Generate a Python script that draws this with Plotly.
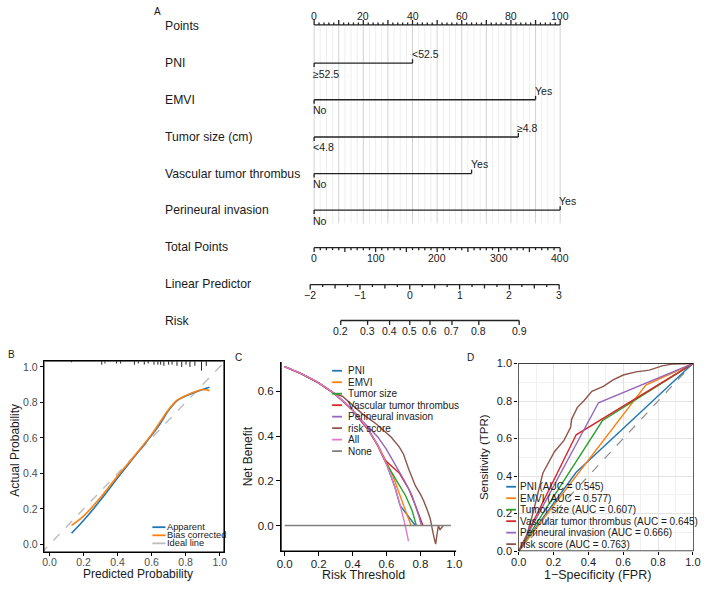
import math
import plotly.graph_objects as go

W, H = 709, 591
FONT = "Liberation Sans, Arial, Helvetica, sans-serif"

# ===================== DATA =====================
# ---- A: nomogram ----
nomo_vars = ["PNI", "EMVI", "Tumor size (cm)", "Vascular tumor thrombus", "Perineural invasion"]
nomo_low_label = ["≥52.5", "No", "<4.8", "No", "No"]
nomo_high_label = ["<52.5", "Yes", "≥4.8", "Yes", "Yes"]
nomo_low_points = [0, 0, 0, 0, 0]
nomo_high_points = [40, 90, 83, 64, 100]
points_tick_labels = [0, 20, 40, 60, 80, 100]
total_points_tick_labels = [0, 100, 200, 300, 400]
lp_tick_labels = [-2, -1, 0, 1, 2, 3]
risk_tick_labels = [0.2, 0.3, 0.4, 0.5, 0.6, 0.7, 0.8, 0.9]

# ---- B: calibration ----
cal_pred = [0.13, 0.2, 0.3, 0.4, 0.5, 0.6, 0.65, 0.7, 0.75, 0.8, 0.85, 0.9, 0.94]
cal_apparent = [0.064, 0.135, 0.25, 0.375, 0.495, 0.615, 0.68, 0.755, 0.81, 0.835, 0.855, 0.872, 0.885]
cal_bias_corrected = [0.108, 0.16, 0.265, 0.385, 0.5, 0.62, 0.69, 0.76, 0.812, 0.838, 0.858, 0.872, 0.866]
rug_pred = [0.129, 0.307, 0.326, 0.394, 0.418, 0.499, 0.522, 0.557, 0.58, 0.614, 0.637, 0.653,
            0.672, 0.70, 0.72, 0.749, 0.777, 0.802, 0.825, 0.854, 0.893, 0.921]
rug_count = [1, 3, 2, 2, 2, 3, 2, 3, 2, 3, 3, 3, 4, 3, 3, 4, 5, 3, 5, 4, 8, 4]

# ---- C: decision curves ----
dca_names = ["PNI", "EMVI", "Tumor size", "Vascular tumor thrombus", "Perineural invasion", "risk score", "All", "None"]
dca_pni_t = [0, .1, .2, .3, .4, .5, .55, .6, .65, .68, .77]
dca_pni_nb = [0.71, 0.678, 0.638, 0.586, 0.517, 0.42, 0.356, 0.275, 0.171, 0.09, 0.0]
dca_emvi_t = [0, .1, .2, .3, .4, .5, .55, .6, .64, .68, .72, .745]
dca_emvi_nb = [0.71, 0.678, 0.638, 0.586, 0.517, 0.42, 0.358, 0.285, 0.218, 0.13, 0.05, 0.0]
dca_size_t = [0, .1, .2, .3, .4, .5, .55, .59, .655, .713, .751, .776]
dca_size_nb = [0.71, 0.678, 0.638, 0.586, 0.517, 0.42, 0.356, 0.29, 0.206, 0.133, 0.067, 0.0]
dca_vasc_t = [0, .1, .2, .3, .4, .5, .55, .59, .675, .732, .771, .815]
dca_vasc_nb = [0.71, 0.678, 0.638, 0.586, 0.517, 0.42, 0.356, 0.293, 0.235, 0.162, 0.089, 0.0]
dca_peri_t = [0, .1, .2, .3, .4, .45, .5, .549, .6, .636, .68, .713, .75, .771, .79, .806]
dca_peri_nb = [0.71, 0.678, 0.638, 0.586, 0.517, 0.473, 0.435, 0.396, 0.34, 0.293, 0.24, 0.191, 0.135, 0.089, 0.045, 0.0]
dca_risk_t = [0, .1, .2, .3, .34, .4, .46, .54, .6, .627, .675, .7, .732, .771, .8, .819, .84, .858,
              .877, .89, .906, .916, .925, .935]
dca_risk_nb = [0.71, 0.678, 0.638, 0.588, 0.578, 0.54, 0.498, 0.454, 0.415, 0.396, 0.352, 0.32, 0.25,
               0.177, 0.14, 0.111, 0.07, 0.031, -0.042, -0.083, 0.0, -0.02, -0.01, 0.0]
dca_all_t = [0, .05, .1, .15, .2, .25, .3, .35, .4, .45, .5, .55, .6, .65, .7, .73]
dca_all_nb = [0.71, 0.695, 0.678, 0.659, 0.638, 0.613, 0.586, 0.554, 0.517, 0.473, 0.42, 0.356, 0.275, 0.171, 0.033, -0.07]
dca_none_t = [0, 0.98]
dca_none_nb = [0, 0]

# ---- D: ROC ----
roc_names = ["PNI", "EMVI", "Tumor size", "Vascular tumor thrombus", "Perineural invasion", "risk score"]
roc_auc = [0.545, 0.577, 0.607, 0.645, 0.666, 0.763]
roc_pni_fpr, roc_pni_tpr = [0, 0.33, 1], [0, 0.42, 1]
roc_emvi_fpr, roc_emvi_tpr = [0, 0.73, 1], [0, 0.885, 1]
roc_size_fpr, roc_size_tpr = [0, 0.48, 1], [0, 0.695, 1]
roc_vasc_fpr, roc_vasc_tpr = [0, 0.33, 1], [0, 0.62, 1]
roc_peri_fpr, roc_peri_tpr = [0, 0.458, 1], [0, 0.791, 1]
roc_risk_fpr = [0, 0.036, 0.083, 0.139, 0.205, 0.26, 0.298, 0.304, 0.336, 0.373, 0.42, 0.486, 0.542,
                0.6, 0.674, 0.75, 0.824, 0.88, 1]
roc_risk_tpr = [0, 0.05, 0.207, 0.416, 0.53, 0.59, 0.66, 0.704, 0.765, 0.80, 0.852, 0.878, 0.913,
                0.939, 0.956, 0.965, 0.988, 0.997, 1]

# ===================== STYLE =====================
C_BLUE, C_ORANGE, C_GREEN, C_RED = "#1f77b4", "#ff7f0e", "#2ca02c", "#d62728"
C_PURPLE, C_BROWN, C_PINK, C_GRAY = "#9467bd", "#8c564b", "#e377c2", "#7f7f7f"
model_colors = [C_BLUE, C_ORANGE, C_GREEN, C_RED, C_PURPLE, C_BROWN, C_PINK, C_GRAY]
TXT = "#1a1a1a"


def fx(px):
    return px / W


def fy(py):
    return 1 - py / H


fig = go.Figure()
annots = []
shapes = []

# ===================== A: NOMOGRAM =====================
NOMO_BOTTOM_PX = 345          # the nomogram subplot occupies only the top band
PT0_PX, PX_PER_PT = 313.3, 2.51
LP_AT_ZERO, PTS_PER_LP = -1.921, 20.24
TOTAL_MAX = total_points_tick_labels[-1]


def total_to_pts(v):
    return v * 100.0 / TOTAL_MAX


def lp_to_pts(v):
    return (v - LP_AT_ZERO) * PTS_PER_LP


def risk_to_pts(r):
    return lp_to_pts(math.log(r / (1 - r)))


ROW_POINTS = 19.3
ROW_VARS = [58.3, 95.7, 133.7, 171.0, 208.3]
ROW_TOTAL = 246.7
ROW_LP = 284.3
ROW_RISK = 321.0
GRID_BOTTOM = 222
LABEL_X = (159.5 - PT0_PX) / PX_PER_PT

gl_x, gl_y, gd_x, gd_y = [], [], [], []
k = 0
while k * 2.5 <= 100 + 1e-9:
    v = k * 2.5
    if abs(v % 10) < 1e-9:
        gd_x += [v, v, None]; gd_y += [ROW_POINTS + 1, GRID_BOTTOM, None]
    else:
        gl_x += [v, v, None]; gl_y += [ROW_POINTS + 1, GRID_BOTTOM, None]
    k += 1
fig.add_trace(go.Scatter(x=gl_x, y=gl_y, mode="lines", line=dict(color="#eeeeee", width=1),
                         xaxis="x", yaxis="y", hoverinfo="skip"))
fig.add_trace(go.Scatter(x=gd_x, y=gd_y, mode="lines", line=dict(color="#d2d2d2", width=1),
                         xaxis="x", yaxis="y", hoverinfo="skip"))

sx, sy = [], []


def seg(x0, y0, x1, y1):
    sx.extend([x0, x1, None]); sy.extend([y0, y1, None])


seg(0, ROW_POINTS, 100, ROW_POINTS)
for v in range(0, 101, 2):
    L = 5 if v % 10 == 0 else 2.5
    seg(v, ROW_POINTS, v, ROW_POINTS - L)
for v in points_tick_labels:
    annots.append(dict(x=v, y=ROW_POINTS - 9, xref="x", yref="y", text=str(v), showarrow=False,
                       xanchor="center", yanchor="middle", font=dict(size=10.5, color=TXT)))

for name, lo_l, hi_l, lo_p, hi_p, r in zip(nomo_vars, nomo_low_label, nomo_high_label,
                                            nomo_low_points, nomo_high_points, ROW_VARS):
    seg(lo_p, r, hi_p, r)
    seg(lo_p, r, lo_p, r + 4)
    seg(hi_p, r, hi_p, r - 4)
    annots.append(dict(x=hi_p, y=r - 9.3, xref="x", yref="y", text=hi_l, showarrow=False,
                       xanchor="left", yanchor="middle", xshift=-3, font=dict(size=10.5, color=TXT)))
    annots.append(dict(x=lo_p, y=r + 10.7, xref="x", yref="y", text=lo_l, showarrow=False,
                       xanchor="left", yanchor="middle", xshift=-3, font=dict(size=10.5, color=TXT)))

seg(0, ROW_TOTAL, total_to_pts(TOTAL_MAX), ROW_TOTAL)
for v in range(0, TOTAL_MAX + 1, 10):
    L = 4.5 if v % 50 == 0 else 2.5
    seg(total_to_pts(v), ROW_TOTAL, total_to_pts(v), ROW_TOTAL + L)
for v in total_points_tick_labels:
    annots.append(dict(x=total_to_pts(v), y=ROW_TOTAL + 10.5, xref="x", yref="y", text=str(v),
                       showarrow=False, xanchor="center", yanchor="middle", font=dict(size=10.5, color=TXT)))

lp_lo, lp_hi = lp_tick_labels[0], lp_tick_labels[-1]
seg(lp_to_pts(lp_lo), ROW_LP, lp_to_pts(lp_hi), ROW_LP)
for kq in range(int(lp_lo * 4), int(lp_hi * 4) + 1):
    v = kq / 4.0
    L = 5 if kq % 4 == 0 else (4 if kq % 2 == 0 else 2.5)
    seg(lp_to_pts(v), ROW_LP, lp_to_pts(v), ROW_LP + L)
for v in lp_tick_labels:
    txt_ = str(v).replace("-", "−")
    annots.append(dict(x=lp_to_pts(v), y=ROW_LP + 10.2, xref="x", yref="y", text=txt_,
                       showarrow=False, xanchor="center", yanchor="middle", font=dict(size=10.5, color=TXT)))

seg(risk_to_pts(risk_tick_labels[0]), ROW_RISK, risk_to_pts(risk_tick_labels[-1]), ROW_RISK)
for v in risk_tick_labels:
    seg(risk_to_pts(v), ROW_RISK, risk_to_pts(v), ROW_RISK + 4.5)
    annots.append(dict(x=risk_to_pts(v), y=ROW_RISK + 10.5, xref="x", yref="y", text=f"{v:.1f}",
                       showarrow=False, xanchor="center", yanchor="middle", font=dict(size=10.5, color=TXT)))

fig.add_trace(go.Scatter(x=sx, y=sy, mode="lines", line=dict(color="#222222", width=1.3),
                         xaxis="x", yaxis="y", hoverinfo="skip"))

for lab, r in zip(["Points"] + nomo_vars + ["Total Points", "Linear Predictor", "Risk"],
                  [20.7] + ROW_VARS + [246.0, 283.3, 321.7]):
    annots.append(dict(x=LABEL_X, y=r, xref="x", yref="y", text=lab, showarrow=False,
                       xanchor="left", yanchor="middle", font=dict(size=12.2, color=TXT)))

# ===================== PANEL GEOMETRY =====================
B_L, B_R, B_T, B_B = 37.5, 221.5, 362.5, 557.5
C_L, C_R, C_T, C_B = 279.5, 458.5, 363.5, 556.5
D_L, D_R, D_T, D_B = 521.5, 700.5, 364.5, 556.5
B_XR, B_YR = [-0.0334, 1.0259], [-0.043, 1.032]
C_XR, C_YR = [-0.022, 1.0127], [-0.115, 0.7306]
D_XR, D_YR = [-0.003, 1.0045], [-0.001, 1.0026]
FRAME_W = 1.4

# ===================== B: CALIBRATION =====================
fig.add_trace(go.Scatter(x=[-0.05, 1.05], y=[-0.05, 1.05], mode="lines",
                         line=dict(color="#bdbdbd", width=1.4, dash="dash"), xaxis="x2", yaxis="y2"))
fig.add_trace(go.Scatter(x=cal_pred, y=cal_apparent, mode="lines", line=dict(color=C_BLUE, width=1.6, shape="spline"),
                         xaxis="x2", yaxis="y2"))
fig.add_trace(go.Scatter(x=cal_pred, y=cal_bias_corrected, mode="lines",
                         line=dict(color=C_ORANGE, width=1.6, shape="spline"), xaxis="x2", yaxis="y2"))
rx, ry = [], []
for p, c in zip(rug_pred, rug_count):
    rx += [p, p, None]; ry += [B_YR[1], B_YR[1] - c * 0.0066, None]
fig.add_trace(go.Scatter(x=rx, y=ry, mode="lines", line=dict(color="#222222", width=1),
                         xaxis="x2", yaxis="y2", hoverinfo="skip"))
fig.add_trace(go.Scatter(x=[B_XR[0], B_XR[1], B_XR[1], B_XR[0], B_XR[0]],
                         y=[B_YR[0], B_YR[0], B_YR[1], B_YR[1], B_YR[0]], mode="lines",
                         line=dict(color="black", width=FRAME_W), cliponaxis=False, xaxis="x2", yaxis="y2",
                         hoverinfo="skip"))

# ===================== C: DCA =====================
dca_series = [(dca_pni_t, dca_pni_nb), (dca_emvi_t, dca_emvi_nb), (dca_size_t, dca_size_nb),
              (dca_vasc_t, dca_vasc_nb), (dca_peri_t, dca_peri_nb), (dca_risk_t, dca_risk_nb),
              (dca_all_t, dca_all_nb), (dca_none_t, dca_none_nb)]
for (t, nb), col in zip(dca_series, model_colors):
    shape = "spline" if col in (C_PINK,) else "linear"
    fig.add_trace(go.Scatter(x=t, y=nb, mode="lines", line=dict(color=col, width=1.4, shape=shape),
                             xaxis="x3", yaxis="y3"))
fig.add_trace(go.Scatter(x=[C_XR[0], C_XR[0], C_XR[1]], y=[C_YR[1], C_YR[0], C_YR[0]], mode="lines",
                         line=dict(color="black", width=FRAME_W), cliponaxis=False, xaxis="x3", yaxis="y3",
                         hoverinfo="skip"))

# ===================== D: ROC =====================
fig.add_trace(go.Scatter(x=[0, 1], y=[0, 1], mode="lines", line=dict(color="#8c8c8c", width=1.2, dash="dash"),
                         xaxis="x4", yaxis="y4"))
roc_series = [(roc_pni_fpr, roc_pni_tpr), (roc_emvi_fpr, roc_emvi_tpr), (roc_size_fpr, roc_size_tpr),
              (roc_vasc_fpr, roc_vasc_tpr), (roc_peri_fpr, roc_peri_tpr), (roc_risk_fpr, roc_risk_tpr)]
for (f, t), col in zip(roc_series, model_colors):
    fig.add_trace(go.Scatter(x=f, y=t, mode="lines", line=dict(color=col, width=1.4), xaxis="x4", yaxis="y4"))
fig.add_trace(go.Scatter(x=[D_XR[0], D_XR[1], D_XR[1], D_XR[0], D_XR[0]],
                         y=[D_YR[0], D_YR[0], D_YR[1], D_YR[1], D_YR[0]], mode="lines",
                         line=dict(color="black", width=1.2), cliponaxis=False, xaxis="x4", yaxis="y4",
                         hoverinfo="skip"))


# ===================== LEGENDS (manual) =====================
def legend_block(names, colors, dashes, x0, x1, xt, ys, size):
    for n, c, d, y in zip(names, colors, dashes, ys):
        shapes.append(dict(type="line", xref="paper", yref="paper", x0=fx(x0), x1=fx(x1), y0=fy(y), y1=fy(y),
                           line=dict(color=c, width=1.8, dash=d)))
        annots.append(dict(x=fx(xt), y=fy(y), xref="paper", yref="paper", text=n, showarrow=False,
                           xanchor="left", yanchor="middle", font=dict(size=size, color=TXT)))


legend_block(["Apparent", "Bias corrected", "Ideal line"], [C_BLUE, C_ORANGE, "#bdbdbd"],
             ["solid", "solid", "solid"], 148.3, 161.7, 161.0, [532.0, 540.3, 548.5], 9.3)
legend_block(dca_names, model_colors, ["solid"] * 8, 331.7, 341.7, 346.0,
             [372.3 + 11.72 * i for i in range(8)], 10)
legend_block([f"{n} (AUC = {a:.3f})" for n, a in zip(roc_names, roc_auc)], model_colors[:6], ["solid"] * 6,
             509.3, 519.3, 521.0, [490.7 + 11.72 * i for i in range(6)], 10)


# ===================== TITLES / PANEL LETTERS =====================
def txt(x, y, s, size, angle=0, color=TXT, anchor="center"):
    annots.append(dict(x=fx(x), y=fy(y), xref="paper", yref="paper", text=s, showarrow=False,
                       xanchor=anchor, yanchor="middle", textangle=angle, font=dict(size=size, color=color)))


txt(153.5, 6, "A", 10)
txt(4.5, 355.5, "B", 10)
txt(236, 358.3, "C", 10)
txt(473, 358.3, "D", 10)
txt(8, 453, "Actual Probability", 12, angle=-90)
txt(133.5, 579.5, "Predicted Probability", 12)
txt(245.5, 460, "Net Benefit", 12, angle=-90)
txt(364, 581, "Risk Threshold", 12.5)
txt(486, 460, "Sensitivity (TPR)", 11.5, angle=-90)
txt(602.5, 580.5, "1−Specificity (FPR)", 12.5)

# ===================== LAYOUT =====================
ticks01 = [0, 0.2, 0.4, 0.6, 0.8, 1.0]
common_b = dict(showline=True, mirror=True, linecolor="black", linewidth=1, ticks="outside", ticklen=3,
                tickcolor="black", showgrid=False, zeroline=False, tickvals=ticks01, tickformat=".1f",
                tickfont=dict(size=10.5, color="#4d4d4d"), fixedrange=True)
common_c = dict(showline=True, mirror=False, linecolor="black", linewidth=1, ticks="outside", ticklen=4,
                tickcolor="black", showgrid=False, zeroline=False, tickformat=".1f",
                tickfont=dict(size=11.5, color=TXT), fixedrange=True)
common_d = dict(showline=False, ticks="outside", ticklen=3,
                tickcolor="black", showgrid=True, gridcolor="#e3e3e3", gridwidth=1, zeroline=False,
                tickvals=ticks01, tickformat=".1f", tickfont=dict(size=11, color=TXT), fixedrange=True,
                minor=dict(tickvals=[0.1, 0.3, 0.5, 0.7, 0.9], showgrid=True, gridcolor="#f1f1f1", ticks=""))

fig.update_layout(
    width=W, height=H, margin=dict(l=0, r=0, t=0, b=0),
    paper_bgcolor="white", plot_bgcolor="rgba(0,0,0,0)", showlegend=False,
    font=dict(family=FONT, color=TXT),
    xaxis=dict(domain=[0, 1], range=[-PT0_PX / PX_PER_PT, (W - PT0_PX) / PX_PER_PT], visible=False, fixedrange=True),
    yaxis=dict(domain=[fy(NOMO_BOTTOM_PX), 1], range=[NOMO_BOTTOM_PX, 0], visible=False, fixedrange=True),
    xaxis2=dict(domain=[fx(B_L), fx(B_R)], range=B_XR, anchor="y2", ticklabelstandoff=-3, **common_b),
    yaxis2=dict(domain=[fy(B_B), fy(B_T)], range=B_YR, anchor="x2", **common_b),
    xaxis3=dict(domain=[fx(C_L), fx(C_R)], range=C_XR, anchor="y3", ticklabelstandoff=-2,
                tickvals=ticks01, **common_c),
    yaxis3=dict(domain=[fy(C_B), fy(C_T)], range=C_YR, anchor="x3",
                tickvals=[0, 0.2, 0.4, 0.6], **common_c),
    xaxis4=dict(domain=[fx(D_L), fx(D_R)], range=D_XR, anchor="y4", ticklabelstandoff=-2, **common_d),
    yaxis4=dict(domain=[fy(D_B), fy(D_T)], range=D_YR, anchor="x4", **common_d),
    annotations=annots, shapes=shapes,
)

fig.write_html("out.html", config={"displayModeBar": False},
               post_script="document.body.style.margin='0';document.body.style.overflow='hidden';")
